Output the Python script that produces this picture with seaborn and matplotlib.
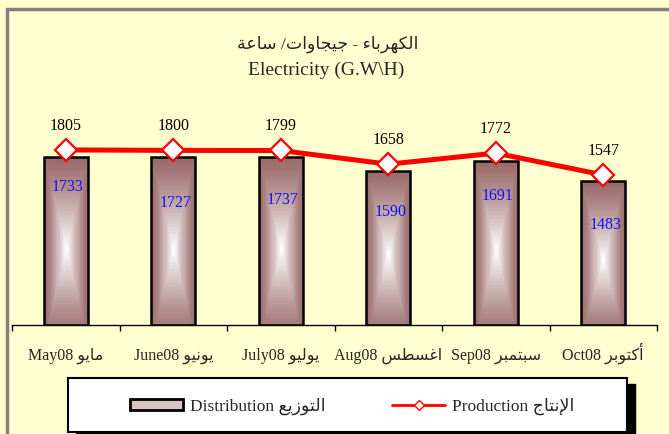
import numpy as np
import pandas as pd
import matplotlib
matplotlib.use("Agg")
import matplotlib.pyplot as plt
import seaborn as sns
from matplotlib.patches import Rectangle, Patch
from matplotlib.lines import Line2D
from matplotlib.colors import to_rgb

# ---------------- data ----------------
months_en = ["May08", "June08", "July08", "Aug08", "Sep08", "Oct08"]
months_ar = ["مايو", "يونيو", "يوليو", "اغسطس", "سبتمبر", "أكتوبر"]
distribution = [1733, 1727, 1737, 1590, 1691, 1483]
production = [1805, 1800, 1799, 1658, 1772, 1547]
title_ar = "الكهرباء - جيجاوات/ ساعة"
title_en = "Electricity (G.W\\H)"
legend_dist_ar = "التوزيع"
legend_prod_ar = "الإنتاج"

# label offsets (pixels below the bar top) for distribution values
dist_label_dy = [30, 46, 43, 41, 35, 44]

# ---------------- minimal Arabic shaping ----------------
FORMS = {
    '\u0621': ('\uFE80', None, None, None),
    '\u0623': ('\uFE83', '\uFE84', None, None),
    '\u0625': ('\uFE87', '\uFE88', None, None),
    '\u0627': ('\uFE8D', '\uFE8E', None, None),
    '\u0628': ('\uFE8F', '\uFE90', '\uFE91', '\uFE92'),
    '\u0629': ('\uFE93', '\uFE94', None, None),
    '\u062A': ('\uFE95', '\uFE96', '\uFE97', '\uFE98'),
    '\u062C': ('\uFE9D', '\uFE9E', '\uFE9F', '\uFEA0'),
    '\u0631': ('\uFEAD', '\uFEAE', None, None),
    '\u0632': ('\uFEAF', '\uFEB0', None, None),
    '\u0633': ('\uFEB1', '\uFEB2', '\uFEB3', '\uFEB4'),
    '\u0637': ('\uFEC1', '\uFEC2', '\uFEC3', '\uFEC4'),
    '\u0639': ('\uFEC9', '\uFECA', '\uFECB', '\uFECC'),
    '\u063A': ('\uFECD', '\uFECE', '\uFECF', '\uFED0'),
    '\u0643': ('\uFED9', '\uFEDA', '\uFEDB', '\uFEDC'),
    '\u0644': ('\uFEDD', '\uFEDE', '\uFEDF', '\uFEE0'),
    '\u0645': ('\uFEE1', '\uFEE2', '\uFEE3', '\uFEE4'),
    '\u0646': ('\uFEE5', '\uFEE6', '\uFEE7', '\uFEE8'),
    '\u0647': ('\uFEE9', '\uFEEA', '\uFEEB', '\uFEEC'),
    '\u0648': ('\uFEED', '\uFEEE', None, None),
    '\u064A': ('\uFEF1', '\uFEF2', '\uFEF3', '\uFEF4'),
}
LAM_ALEF = {'\u0627': ('\uFEFB', '\uFEFC'),
            '\u0623': ('\uFEF7', '\uFEF8'),
            '\u0625': ('\uFEF9', '\uFEFA')}


def shape(s):
    toks = []
    i = 0
    while i < len(s):
        c = s[i]
        if c == '\u0644' and i + 1 < len(s) and s[i + 1] in LAM_ALEF:
            toks.append(('LA', s[i + 1]))
            i += 2
        else:
            toks.append((c, None))
            i += 1

    def joins_next(t):
        if t[0] == 'LA':
            return False
        f = FORMS.get(t[0])
        return f is not None and f[2] is not None

    def joins_prev(t):
        if t[0] == 'LA':
            return True
        f = FORMS.get(t[0])
        return f is not None and f[1] is not None

    out = []
    for k, t in enumerate(toks):
        jp = k > 0 and joins_next(toks[k - 1]) and joins_prev(t)
        jn = joins_next(t) and k + 1 < len(toks) and joins_prev(toks[k + 1])
        if t[0] == 'LA':
            out.append(LAM_ALEF[t[1]][1 if jp else 0])
        elif t[0] in FORMS:
            f = FORMS[t[0]]
            if jp and jn:
                out.append(f[3])
            elif jp:
                out.append(f[1])
            elif jn:
                out.append(f[2])
            else:
                out.append(f[0])
        else:
            out.append(t[0])
    return ''.join(reversed(out))


# ---------------- style ----------------
sns.set_style("white")
FAM = ["Liberation Serif", "DejaVu Sans"]
plt.rcParams['font.family'] = FAM
BG = "#FFFFCF"
BAR_DARK = "#9A6A6A"

W, H = 669, 434
fig = plt.figure(figsize=(W / 100, H / 100), dpi=100, facecolor=BG)

# frame (gray border top and left)
fig.patches.append(Rectangle((7 / W, -0.1), 1.2, (H - 9) / H + 0.1, transform=fig.transFigure,
                             facecolor="none", edgecolor="#808080", lw=2.5, zorder=0))

ax_left, ax_right, ax_bottom, ax_top = 12, 657, 325, 15
ax = fig.add_axes([ax_left / W, (H - ax_bottom) / H, (ax_right - ax_left) / W,
                   (ax_bottom - ax_top) / H])
ax.set_facecolor("none")

k = 0.097  # px per unit
ax.set_ylim(0, (ax_bottom - ax_top) / k)

df = pd.DataFrame({"month": months_en, "distribution": distribution,
                   "production": production})

sns.barplot(data=df, x="month", y="distribution", ax=ax, width=0.41,
            color=BAR_DARK, edgecolor="black", linewidth=1.8, saturation=1, zorder=3)

# gradient fill inside each bar
dark = np.array(to_rgb(BAR_DARK))
white = np.array([1.0, 1.0, 1.0])
ny, nx = 120, 40
u = np.linspace(-1, 1, nx)[None, :]
v = np.linspace(-1, 1, ny)[:, None]
t = np.clip(np.maximum(np.abs(u), np.abs(v - 0.1) / 1.1), 0, 1)
w = (1 - t) ** 1.25
img = dark[None, None, :] * (1 - w[..., None]) + white[None, None, :] * w[..., None]

for p in ax.patches:
    x0, y0 = p.get_x(), p.get_y()
    pw, ph = p.get_width(), p.get_height()
    im = ax.imshow(img, extent=(x0, x0 + pw, y0, y0 + ph), origin="upper",
                   aspect="auto", interpolation="nearest", zorder=3.1)
    im.set_clip_path(p)
    p.set_facecolor("none")
    p.set_zorder(3.2)

# production line
xs = np.arange(len(production))
sns.lineplot(x=xs, y=production, ax=ax, color="red", linewidth=3.6, zorder=4,
             marker="D", markersize=11, markerfacecolor="white",
             markeredgecolor="red", markeredgewidth=1.6, legend=False)

ax.set_xlim(-0.5, len(months_en) - 0.5)
ax.set_ylim(0, (ax_bottom - ax_top) / k)

# value labels
for i, val in enumerate(production):
    ax.annotate(str(val), (i, val), xytext=(0, 17.5), textcoords="offset points",
                ha="center", va="center", fontsize=11.5, color="black", zorder=6)
for i, val in enumerate(distribution):
    ax.annotate(str(val), (i + 0.02, val), xytext=(0, -dist_label_dy[i] * 0.72),
                textcoords="offset points", ha="center", va="center",
                fontsize=11.5, color="#1010FF", zorder=6)

# axes styling
for s in ["top", "right", "left"]:
    ax.spines[s].set_visible(False)
ax.spines["bottom"].set_color("black")
ax.spines["bottom"].set_linewidth(1.0)
ax.set_yticks([])
ax.set_xlabel("")
ax.set_ylabel("")
ax.set_xticks(xs)
ax.set_xticklabels([f"{e} {shape(a)}" for e, a in zip(months_en, months_ar)],
                   fontsize=11.5)
for lab in ax.get_xticklabels():
    lab.set_verticalalignment("baseline")
ax.tick_params(axis="x", which="major", bottom=True, length=0, pad=25)
ax.set_xticks(np.arange(-0.5, len(months_en), 1.0), minor=True)
ax.tick_params(axis="x", which="minor", bottom=True, length=4, width=1,
               color="black", direction="out")

# titles
fig.text(328 / W, 1 - 44 / H, shape(title_ar), ha="center", va="center",
         fontsize=12.5, family=FAM)
fig.text(326 / W, 1 - 70 / H, title_en, ha="center", va="center", fontsize=14, family=FAM)

# legend box with shadow
lx0, lx1, ly0, ly1 = 68, 627, 378, 432
fig.patches.append(Rectangle(((lx0 + 8) / W, 1 - (ly1 + 6) / H), (lx1 - lx0) / W,
                             (ly1 - ly0) / H, transform=fig.transFigure,
                             facecolor="black", edgecolor="black", zorder=1))
fig.patches.append(Rectangle((lx0 / W, 1 - ly1 / H), (lx1 - lx0) / W, (ly1 - ly0) / H,
                             transform=fig.transFigure, facecolor="white",
                             edgecolor="black", lw=1.5, zorder=2))

handles = [Patch(facecolor="#D9C2C2", edgecolor="black", linewidth=2),
           Line2D([], [], color="red", lw=2, marker="D", markersize=5,
                  markerfacecolor="white", markeredgecolor="red")]
labels = [f"Distribution {shape(legend_dist_ar)}", f"Production {shape(legend_prod_ar)}"]
leg = fig.legend(handles, labels, loc="center", ncol=2, frameon=False,
                 bbox_to_anchor=(352 / W, 1 - 406 / H), fontsize=12.5,
                 handlelength=3.05, handleheight=0.6, handletextpad=0.4,
                 columnspacing=3.85)
leg.set_zorder(5)

fig.savefig("out.png", dpi=100, facecolor=BG)
